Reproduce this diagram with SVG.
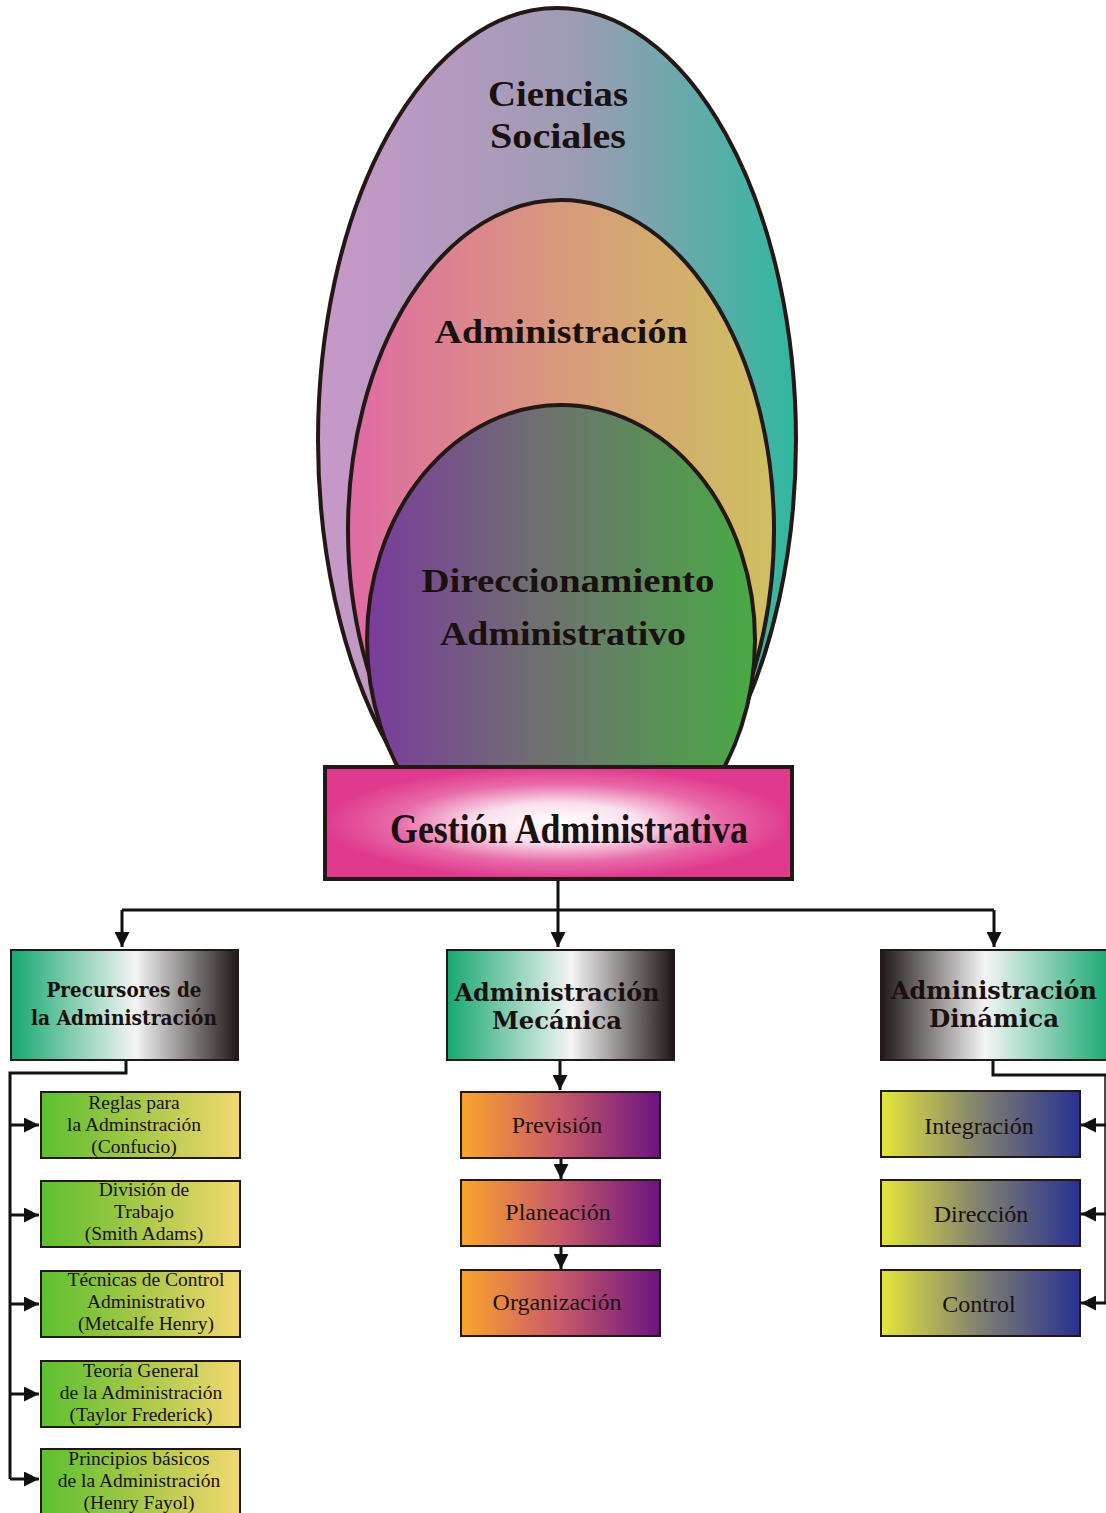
<svg xmlns="http://www.w3.org/2000/svg" width="1106" height="1513" viewBox="0 0 1106 1513">
<style>
.hd{font-family:"DejaVu Serif","Liberation Serif",serif;font-weight:bold;fill:#1a1010;text-anchor:middle}
.big{font-family:"Liberation Serif",serif;fill:#1a1010;text-anchor:middle;font-weight:bold}
.sm{font-family:"Liberation Serif",serif;font-size:19.5px;fill:#1a1010;text-anchor:middle}
.md{font-family:"Liberation Serif",serif;font-size:24px;fill:#1a1010;text-anchor:middle}
.box{stroke:#231815;stroke-width:2}
.ln{stroke:#111;stroke-width:3;fill:none}
</style>
<defs>
<linearGradient id="gOut" x1="0" x2="1"><stop offset="0" stop-color="#c898c8"/><stop offset="0.55" stop-color="#9c9cb4"/><stop offset="1" stop-color="#30b8a0"/></linearGradient>
<linearGradient id="gMid" x1="0" x2="1"><stop offset="0" stop-color="#e06aa4"/><stop offset="0.5" stop-color="#d89a7c"/><stop offset="1" stop-color="#cec060"/></linearGradient>
<linearGradient id="gIn" x1="0" x2="1"><stop offset="0" stop-color="#7a3c9c"/><stop offset="0.45" stop-color="#6f7070"/><stop offset="1" stop-color="#48aa44"/></linearGradient>
<radialGradient id="gGest" cx="0.5" cy="0.5" r="0.5"><stop offset="0" stop-color="#ffffff"/><stop offset="0.35" stop-color="#fbe0ee"/><stop offset="0.7" stop-color="#e86aa8"/><stop offset="1" stop-color="#e03a8e"/></radialGradient>
<linearGradient id="gGW" x1="0" x2="1"><stop offset="0" stop-color="#16a870"/><stop offset="0.55" stop-color="#f4f4f4"/><stop offset="1" stop-color="#201818"/></linearGradient>
<linearGradient id="gWG" x1="0" x2="1"><stop offset="0" stop-color="#201818"/><stop offset="0.45" stop-color="#f4f4f4"/><stop offset="1" stop-color="#16a870"/></linearGradient>
<linearGradient id="gGY" x1="0" x2="1"><stop offset="0" stop-color="#5cc030"/><stop offset="0.5" stop-color="#a8c848"/><stop offset="1" stop-color="#f2d870"/></linearGradient>
<linearGradient id="gOP" x1="0" x2="1"><stop offset="0" stop-color="#fba52a"/><stop offset="0.5" stop-color="#c8586a"/><stop offset="1" stop-color="#6a1480"/></linearGradient>
<linearGradient id="gYB" x1="0" x2="1"><stop offset="0" stop-color="#e4e63a"/><stop offset="0.5" stop-color="#7f8070"/><stop offset="1" stop-color="#283092"/></linearGradient>
<marker id="ah" viewBox="0 0 10 10" refX="10" refY="5" markerWidth="5" markerHeight="5" markerUnits="strokeWidth" orient="auto"><path d="M0,0 L10,5 L0,10 z" fill="#111"/></marker>
</defs>

<g id="ciencias-sociales">
<ellipse cx="557" cy="440" rx="239" ry="432" fill="url(#gOut)" stroke="#231815" stroke-width="4"/>
<text class="big" x="558" y="106" font-size="36" font-family="DejaVu Serif" textLength="140" lengthAdjust="spacingAndGlyphs">Ciencias</text>
<text class="big" x="558" y="148" font-size="36" font-family="DejaVu Serif" textLength="136" lengthAdjust="spacingAndGlyphs">Sociales</text>
</g>
<g id="administracion">
<ellipse cx="561" cy="530" rx="213" ry="330" fill="url(#gMid)" stroke="#231815" stroke-width="4"/>
<text class="big" x="561" y="343" font-size="34" font-family="DejaVu Serif" textLength="253" lengthAdjust="spacingAndGlyphs">Administración</text>
</g>
<g id="direccionamiento">
<ellipse cx="561" cy="640" rx="194" ry="235" fill="url(#gIn)" stroke="#231815" stroke-width="4"/>
<text class="big" x="568" y="592" font-size="34" font-family="DejaVu Serif" textLength="293" lengthAdjust="spacingAndGlyphs">Direccionamiento</text>
<text class="big" x="563" y="645" font-size="34" font-family="DejaVu Serif" textLength="246" lengthAdjust="spacingAndGlyphs">Administrativo</text>
</g>
<g id="gestion">
<rect x="325" y="767" width="467" height="112" fill="url(#gGest)" stroke="#231815" stroke-width="4"/>
<text class="big" x="569" y="843" font-size="42" textLength="358" lengthAdjust="spacingAndGlyphs">Gestión Administrativa</text>
</g>

<g id="connectors">
<path class="ln" d="M558,881 V910 M122,910 H994"/>
<path class="ln" d="M122,910 V947" marker-end="url(#ah)"/>
<path class="ln" d="M558,910 V947" marker-end="url(#ah)"/>
<path class="ln" d="M994,910 V947" marker-end="url(#ah)"/>
<path class="ln" d="M126,1060 V1073 H10 V1479"/>
<path class="ln" d="M10,1125 H39" marker-end="url(#ah)"/>
<path class="ln" d="M10,1215 H39" marker-end="url(#ah)"/>
<path class="ln" d="M10,1304 H39" marker-end="url(#ah)"/>
<path class="ln" d="M10,1394 H39" marker-end="url(#ah)"/>
<path class="ln" d="M10,1479 H39" marker-end="url(#ah)"/>
<path class="ln" d="M560,1060 V1090" marker-end="url(#ah)"/>
<path class="ln" d="M561,1158 V1179" marker-end="url(#ah)"/>
<path class="ln" d="M561,1246 V1269" marker-end="url(#ah)"/>
<path class="ln" d="M993,1060 V1075 H1106"/>
<path stroke="#111" stroke-width="1.5" fill="none" d="M1105,1075 V1303"/>
<path class="ln" d="M1106,1125 H1081" marker-end="url(#ah)"/>
<path class="ln" d="M1106,1214 H1081" marker-end="url(#ah)"/>
<path class="ln" d="M1106,1303 H1081" marker-end="url(#ah)"/>
</g>

<g id="precursores">
<rect class="box" x="11" y="950" width="227" height="110" fill="url(#gGW)"/>
<text class="hd" x="124" y="997" font-size="21" textLength="155" lengthAdjust="spacingAndGlyphs">Precursores de</text>
<text class="hd" x="124" y="1025" font-size="21" textLength="186" lengthAdjust="spacingAndGlyphs">la Administración</text>
</g>
<g id="mecanica">
<rect class="box" x="447" y="950" width="227" height="110" fill="url(#gGW)"/>
<text class="hd" x="557" y="1001" font-size="24" textLength="205" lengthAdjust="spacingAndGlyphs">Administración</text>
<text class="hd" x="557" y="1029" font-size="24" textLength="130" lengthAdjust="spacingAndGlyphs">Mecánica</text>
</g>
<g id="dinamica">
<rect class="box" x="881" y="950" width="230" height="110" fill="url(#gWG)"/>
<text class="hd" x="994" y="999" font-size="24" textLength="206" lengthAdjust="spacingAndGlyphs">Administración</text>
<text class="hd" x="994" y="1027" font-size="24" textLength="130" lengthAdjust="spacingAndGlyphs">Dinámica</text>
</g>

<g id="reglas">
<rect class="box" x="41" y="1092" width="199" height="66" fill="url(#gGY)"/>
<text class="sm" x="134" y="1109">Reglas para</text>
<text class="sm" x="134" y="1131">la Adminstración</text>
<text class="sm" x="134" y="1153">(Confucio)</text>
</g>
<g id="division">
<rect class="box" x="41" y="1181" width="199" height="66" fill="url(#gGY)"/>
<text class="sm" x="144" y="1196">División de</text>
<text class="sm" x="144" y="1218">Trabajo</text>
<text class="sm" x="144" y="1240">(Smith Adams)</text>
</g>
<g id="tecnicas">
<rect class="box" x="41" y="1271" width="199" height="66" fill="url(#gGY)"/>
<text class="sm" x="146" y="1286">Técnicas de Control</text>
<text class="sm" x="146" y="1308">Administrativo</text>
<text class="sm" x="146" y="1330">(Metcalfe Henry)</text>
</g>
<g id="teoria">
<rect class="box" x="41" y="1361" width="199" height="66" fill="url(#gGY)"/>
<text class="sm" x="141" y="1377">Teoría General</text>
<text class="sm" x="141" y="1399">de la Administración</text>
<text class="sm" x="141" y="1421">(Taylor Frederick)</text>
</g>
<g id="principios">
<rect class="box" x="41" y="1449" width="199" height="70" fill="url(#gGY)"/>
<text class="sm" x="139" y="1465">Principios básicos</text>
<text class="sm" x="139" y="1487">de la Administración</text>
<text class="sm" x="139" y="1509">(Henry Fayol)</text>
</g>

<g id="prevision">
<rect class="box" x="461" y="1092" width="199" height="66" fill="url(#gOP)"/>
<text class="md" x="557" y="1133">Previsión</text>
</g>
<g id="planeacion">
<rect class="box" x="461" y="1180" width="199" height="66" fill="url(#gOP)"/>
<text class="md" x="558" y="1220">Planeación</text>
</g>
<g id="organizacion">
<rect class="box" x="461" y="1270" width="199" height="66" fill="url(#gOP)"/>
<text class="md" x="557" y="1310">Organización</text>
</g>

<g id="integracion">
<rect class="box" x="881" y="1091" width="199" height="66" fill="url(#gYB)"/>
<text class="md" x="979" y="1134">Integración</text>
</g>
<g id="direccion">
<rect class="box" x="881" y="1180" width="199" height="66" fill="url(#gYB)"/>
<text class="md" x="981" y="1222">Dirección</text>
</g>
<g id="control">
<rect class="box" x="881" y="1270" width="199" height="66" fill="url(#gYB)"/>
<text class="md" x="979" y="1312">Control</text>
</g>
</svg>
